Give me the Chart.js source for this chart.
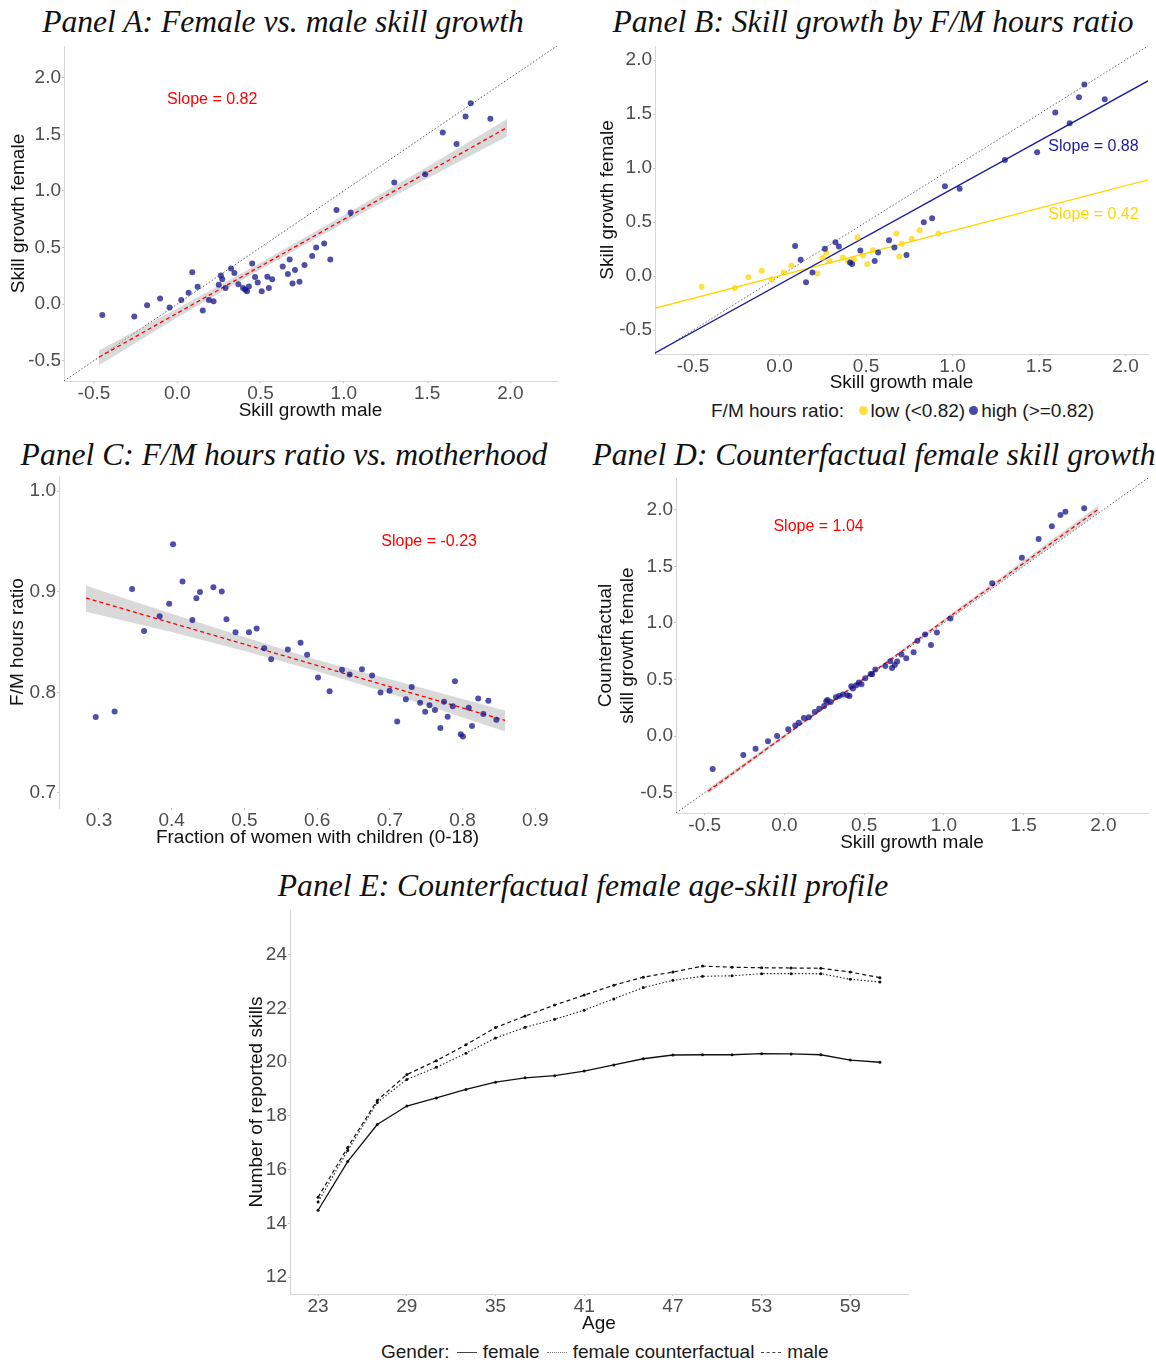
<!DOCTYPE html>
<html>
  <head>
    <title>Skill growth panels</title>
    <script src="https://cdn.jsdelivr.net/npm/chart.js@4.4.1/dist/chart.umd.min.js"></script>
    <style>
      body { margin: 0; background: #fff; width: 1156px; height: 1365px; position: relative; overflow: hidden; }
      canvas { position: absolute; }
      .ptitle {
        position: absolute; width: 640px; text-align: center; white-space: nowrap;
        font-family: 'Liberation Serif', 'DejaVu Serif', serif; font-style: italic;
        font-size: 31.6px; line-height: 40px; color: #111;
      }
      .legend {
        position: absolute; white-space: nowrap; font-family: 'Liberation Sans', Arial, sans-serif;
        font-size: 19px; line-height: 22px; color: #1a1a1a;
      }
      .dot { display: inline-block; width: 9px; height: 9px; border-radius: 50%; vertical-align: 2px; margin: 0 3px 0 4px; }
      .ln { display: inline-block; width: 20px; height: 0; border-top: 1.3px solid #444; vertical-align: 5px; margin: 0 6px 0 7px; }
    </style>
  </head>
  <body>
    <div class="ptitle" style="left:-37px; top:2px">Panel A: Female vs. male skill growth</div>
    <div class="ptitle" style="left:553px; top:2px">Panel B: Skill growth by F/M hours ratio</div>
    <div class="ptitle" style="left:-36px; top:435px">Panel C: F/M hours ratio vs. motherhood</div>
    <div class="ptitle" style="left:554px; top:435px">Panel D: Counterfactual female skill growth</div>
    <div class="ptitle" style="left:263px; top:866px">Panel E: Counterfactual female age-skill profile</div>

    <canvas id="panelA" width="570" height="390" style="left:0px; top:40px"></canvas>
    <canvas id="panelB" width="576" height="360" style="left:580px; top:40px"></canvas>
    <canvas id="panelC" width="580" height="390" style="left:0px; top:470px"></canvas>
    <canvas id="panelD" width="576" height="390" style="left:580px; top:470px"></canvas>
    <canvas id="panelE" width="690" height="440" style="left:240px; top:900px"></canvas>

    <div class="legend" style="left:711px; top:400px">F/M hours ratio:&nbsp;
      <span class="dot" style="background:#ffdf40"></span>low (&lt;0.82)<span class="dot" style="background:#4848a6"></span>high (&gt;=0.82)</div>
    <div class="legend" style="left:381px; top:1341px">Gender:<span class="ln"></span>female<span class="ln" style="border-top-style:dotted; border-top-color:#777"></span>female counterfactual<span class="ln" style="border-top-style:dashed"></span>male</div>

    <script>
      // ---- Panels A, B, D: one point per occupation ----
      var maleGrowth = [-0.45, -0.258, -0.181, -0.103, -0.046, 0.024, 0.068, 0.09, 0.122, 0.153,
                        0.19, 0.218, 0.249, 0.262, 0.27, 0.29, 0.323, 0.343, 0.367, 0.395,
                        0.408, 0.419, 0.43, 0.45, 0.467, 0.483, 0.507, 0.541, 0.55, 0.57,
                        0.633, 0.664, 0.675, 0.692, 0.707, 0.734, 0.764, 0.81, 0.834, 0.882,
                        0.919, 0.956, 1.041, 1.303, 1.489, 1.594, 1.677, 1.731, 1.762, 1.88];
      var femaleGrowth = [-0.097, -0.11, -0.01, 0.05, -0.03, 0.035, 0.10, 0.28, 0.153, -0.056,
                          0.035, 0.024, 0.17, 0.253, 0.22, 0.141, 0.315, 0.274, 0.174, 0.141,
                          0.126, 0.112, 0.156, 0.359, 0.238, 0.191, 0.112, 0.241, 0.141, 0.22,
                          0.332, 0.265, 0.394, 0.182, 0.3, 0.197, 0.344, 0.424, 0.5, 0.535,
                          0.394, 0.832, 0.809, 1.074, 1.147, 1.515, 1.415, 1.656, 1.774, 1.638];
      var hoursGroup = ['low','low','low','low','low','low','low','high','high','high',
                        'high','low','low','high','low','low','high','high','low','low',
                        'high','high','low','low','high','low','low','low','high','high',
                        'high','high','low','low','low','high','low','low','high','high',
                        'low','high','high','high','high','high','high','high','high','high'];
      var cfFemaleGrowth = [-0.292, -0.168, -0.112, -0.047, 0.0, 0.059, 0.094, 0.118, 0.159, 0.165,
                            0.212, 0.242, 0.265, 0.307, 0.319, 0.301, 0.342, 0.354, 0.366, 0.36,
                            0.354, 0.44, 0.419, 0.448, 0.472, 0.457, 0.51, 0.549, 0.545, 0.587,
                            0.619, 0.661, 0.602, 0.628, 0.658, 0.72, 0.687, 0.74, 0.841, 0.897,
                            0.805, 0.914, 1.038, 1.351, 1.575, 1.74, 1.853, 1.953, 1.982, 2.012];

      // fitted lines and confidence bands
      var fitAX = [-0.47, 1.98], fitAY = [-0.47, 1.56];
      var bandAX = [-0.47, 0.0, 0.5, 1.0, 1.5, 1.98];
      var bandALo = [-0.54, -0.12, 0.305, 0.715, 1.11, 1.48];
      var bandAHi = [-0.41, -0.04, 0.365, 0.785, 1.21, 1.635];
      var fitBX = [-0.72, 2.13];
      var fitBHighY = [-0.711, 1.807];
      var fitBLowY = [-0.297, 0.891];
      var fitDX = [-0.478, 1.97], fitDY = [-0.487, 2.006];
      var bandDX = [-0.478, 0.5, 1.97];
      var bandDLo = [-0.51, 0.502, 1.975];
      var bandDHi = [-0.464, 0.518, 2.037];
      var diagAD = [-0.68, 2.28];
      var diagB = [-0.72, 2.13];

      // ---- Panel C ----
      var shareMothers = [0.2955, 0.3215, 0.3455, 0.362, 0.3834, 0.3965, 0.4019, 0.4149, 0.4284, 0.4339,
                          0.4389, 0.4573, 0.4688, 0.4753, 0.4878, 0.5063, 0.5168, 0.5273, 0.5368, 0.5597,
                          0.5772, 0.5862, 0.6012, 0.6172, 0.6342, 0.6447, 0.6616, 0.6756, 0.6871, 0.6996,
                          0.7101, 0.722, 0.73, 0.7416, 0.7486, 0.7545, 0.762, 0.7695, 0.7745, 0.7795,
                          0.7865, 0.7895, 0.7975, 0.8005, 0.8085, 0.813, 0.8215, 0.8285, 0.8355, 0.8465];
      var hoursRatio = [0.7754, 0.781, 0.9026, 0.861, 0.8757, 0.8879, 0.9472, 0.9102, 0.8718, 0.8934,
                        0.8997, 0.9043, 0.9003, 0.8725, 0.8597, 0.8597, 0.8633, 0.8439, 0.8328, 0.8426,
                        0.8492, 0.8374, 0.8148, 0.801, 0.8223, 0.8177, 0.823, 0.8167, 0.7997, 0.8016,
                        0.7711, 0.7931, 0.8052, 0.7895, 0.7807, 0.7872, 0.7823, 0.7646, 0.7905, 0.7757,
                        0.7862, 0.8111, 0.7584, 0.7561, 0.7846, 0.7666, 0.7938, 0.7784, 0.7915, 0.7728];
      var fitCX = [0.282, 0.8585], fitCY = [0.8938, 0.7721];
      var bandCX = [0.282, 0.4, 0.5, 0.6, 0.7, 0.8585];
      var bandCLo = [0.880, 0.860, 0.841, 0.821, 0.799, 0.761];
      var bandCHi = [0.906, 0.878, 0.855, 0.832, 0.813, 0.782];

      // ---- Panel E ----
      var ages = [23, 25, 27, 29, 31, 33, 35, 37, 39, 41, 43, 45, 47, 49, 51, 53, 55, 57, 59, 61];
      var skillsFemale = [14.49, 16.30, 17.68, 18.37, 18.67, 18.99, 19.26, 19.42, 19.50, 19.67,
                          19.90, 20.13, 20.27, 20.28, 20.28, 20.32, 20.31, 20.28, 20.08, 20.0];
      var skillsFemaleCf = [14.80, 16.71, 18.50, 19.36, 19.81, 20.34, 20.90, 21.30, 21.60, 21.94,
                            22.36, 22.78, 23.05, 23.20, 23.22, 23.30, 23.30, 23.30, 23.09, 22.99];
      var skillsMale = [14.97, 16.83, 18.58, 19.54, 20.06, 20.65, 21.29, 21.72, 22.13, 22.50,
                        22.87, 23.17, 23.36, 23.58, 23.54, 23.52, 23.51, 23.50, 23.36, 23.15];

      // tick labels
      var growthTicks = [-0.5, 0.0, 0.5, 1.0, 1.5, 2.0];
      var shareTicks = [0.3, 0.4, 0.5, 0.6, 0.7, 0.8, 0.9];
      var ratioTicks = [0.7, 0.8, 0.9, 1.0];
      var ageTicks = [23, 29, 35, 41, 47, 53, 59];
      var skillTicks = [12, 14, 16, 18, 20, 22, 24];

      Chart.defaults.font.family = "'Liberation Sans', Arial, sans-serif";
      Chart.defaults.animation = false;

      var POINT_BLUE = 'rgba(20,20,140,0.75)';
      var POINT_GOLD = 'rgba(255,214,0,0.75)';
      var BAND = 'rgba(170,170,170,0.45)';

      // draws "Slope = ..." labels at data coordinates
      var textLabels = {
        id: 'textLabels',
        afterDatasetsDraw: function(chart, args, opts) {
          var ctx = chart.ctx, xs = chart.scales.x, ys = chart.scales.y;
          (opts.items || []).forEach(function(it) {
            ctx.save();
            ctx.font = "16px 'Liberation Sans', Arial, sans-serif";
            ctx.fillStyle = it.color;
            ctx.textAlign = 'center';
            ctx.textBaseline = 'middle';
            ctx.fillText(it.text, xs.getPixelForValue(it.x), ys.getPixelForValue(it.y));
            ctx.restore();
          });
        }
      };

      function pts(xs, ys) {
        return xs.map(function(x, i) { return {x: x, y: ys[i]}; });
      }

      function lineDs(xs, ys, style) {
        return Object.assign({type: 'line', data: pts(xs, ys), pointRadius: 0, fill: false,
                              tension: 0, borderWidth: 1.2}, style);
      }

      function axis(o) {
        return {
          type: 'linear', min: o.min, max: o.max,
          afterBuildTicks: function(s) { s.ticks = o.ticks.map(function(v) { return {value: v}; }); },
          afterFit: function(s) {
            if (s.isHorizontal()) s.height = o.size; else s.width = o.size;
            s.paddingTop = 0; s.paddingBottom = 0; s.paddingLeft = 0; s.paddingRight = 0;
          },
          ticks: {color: '#4d4d4d', font: {size: 19}, padding: o.tickPad, autoSkip: false, maxRotation: 0,
                  callback: o.fmt},
          grid: {drawOnChartArea: false, tickLength: 2, color: '#c4c4c4'},
          border: {display: o.line !== false, color: '#d6d6d6', width: 1},
          title: {display: true, text: o.title, color: '#111', font: {size: 19}, padding: 0}
        };
      }

      var f1 = function(v) { return v.toFixed(1); };
      var f0 = function(v) { return String(v); };

      function makeChart(id, pad, xAxis, yAxis, datasets, labels) {
        return new Chart(document.getElementById(id), {
          type: 'scatter',
          data: {datasets: datasets},
          plugins: [textLabels],
          options: {
            responsive: false,
            layout: {padding: pad},
            scales: {x: axis(xAxis), y: axis(yAxis)},
            plugins: {legend: {display: false}, tooltip: {enabled: false}, textLabels: {items: labels || []}}
          }
        });
      }

      // Panel A
      makeChart('panelA', {left: 7, top: 6, right: 13, bottom: 8},
        {min: -0.68, max: 2.28, ticks: growthTicks, fmt: f1, size: 41, tickPad: -1, title: 'Skill growth male'},
        {min: -0.68, max: 2.28, ticks: growthTicks, fmt: f1, size: 57, tickPad: 1, title: 'Skill growth female'},
        [
          {data: pts(maleGrowth, femaleGrowth), backgroundColor: POINT_BLUE, borderWidth: 0, pointRadius: 3},
          lineDs(fitAX, fitAY, {borderColor: '#ff0000', borderDash: [4, 3], borderWidth: 1.3}),
          lineDs(bandAX, bandAHi, {borderWidth: 0, fill: '+1', backgroundColor: BAND}),
          lineDs(bandAX, bandALo, {borderWidth: 0}),
          lineDs(diagAD, diagAD, {borderColor: '#333', borderDash: [1.5, 2], borderWidth: 0.8})
        ],
        [{x: 0.21, y: 1.805, text: 'Slope = 0.82', color: '#ff0000'}]);

      // Panel B
      var lowX = maleGrowth.filter(function(v, i) { return hoursGroup[i] === 'low'; });
      var lowY = femaleGrowth.filter(function(v, i) { return hoursGroup[i] === 'low'; });
      var highX = maleGrowth.filter(function(v, i) { return hoursGroup[i] === 'high'; });
      var highY = femaleGrowth.filter(function(v, i) { return hoursGroup[i] === 'high'; });
      makeChart('panelB', {left: 16, top: 6, right: 8, bottom: 6},
        {min: -0.72, max: 2.13, ticks: growthTicks, fmt: f1, size: 40, tickPad: -1, title: 'Skill growth male'},
        {min: -0.72, max: 2.13, ticks: growthTicks, fmt: f1, size: 59, tickPad: 1, title: 'Skill growth female'},
        [
          {data: pts(highX, highY), backgroundColor: POINT_BLUE, borderWidth: 0, pointRadius: 3},
          {data: pts(lowX, lowY), backgroundColor: POINT_GOLD, borderWidth: 0, pointRadius: 3},
          lineDs(fitBX, fitBHighY, {borderColor: '#1c1c96', borderWidth: 1.3}),
          lineDs(fitBX, fitBLowY, {borderColor: '#ffd700', borderWidth: 1.3}),
          lineDs(diagB, diagB, {borderColor: '#444', borderDash: [1.5, 2], borderWidth: 0.8})
        ],
        [{x: 1.815, y: 1.2, text: 'Slope = 0.88', color: '#1c1c96'},
         {x: 1.815, y: 0.567, text: 'Slope = 0.42', color: '#ffd700'}]);

      // Panel C
      makeChart('panelC', {left: 6, top: 6, right: 4, bottom: 11},
        {min: 0.245, max: 0.956, ticks: shareTicks, fmt: f1, size: 41, tickPad: -1, line: false,
         title: 'Fraction of women with children (0-18)'},
        {min: 0.685, max: 1.015, ticks: ratioTicks, fmt: f1, size: 53, tickPad: 1, title: 'F/M hours ratio'},
        [
          {data: pts(shareMothers, hoursRatio), backgroundColor: POINT_BLUE, borderWidth: 0, pointRadius: 3},
          lineDs(fitCX, fitCY, {borderColor: '#ff0000', borderDash: [4, 3], borderWidth: 1.3}),
          lineDs(bandCX, bandCHi, {borderWidth: 0, fill: '+1', backgroundColor: BAND}),
          lineDs(bandCX, bandCLo, {borderWidth: 0})
        ],
        [{x: 0.754, y: 0.95, text: 'Slope = -0.23', color: '#ff0000'}]);

      // Panel D
      makeChart('panelD', {left: 14, top: 8, right: 8, bottom: 6},
        {min: -0.68, max: 2.28, ticks: growthTicks, fmt: f1, size: 41, tickPad: -1, title: 'Skill growth male'},
        {min: -0.68, max: 2.28, ticks: growthTicks, fmt: f1, size: 82, tickPad: 1,
         title: ['Counterfactual', 'skill growth female']},
        [
          {data: pts(maleGrowth, cfFemaleGrowth), backgroundColor: POINT_BLUE, borderWidth: 0, pointRadius: 3},
          lineDs(fitDX, fitDY, {borderColor: '#ff0000', borderDash: [4, 3], borderWidth: 1.3}),
          lineDs(bandDX, bandDHi, {borderWidth: 0, fill: '+1', backgroundColor: BAND}),
          lineDs(bandDX, bandDLo, {borderWidth: 0}),
          lineDs(diagAD, diagAD, {borderColor: '#333', borderDash: [1.5, 2], borderWidth: 0.8})
        ],
        [{x: 0.214, y: 1.85, text: 'Slope = 1.04', color: '#ff0000'}]);

      // Panel E
      makeChart('panelE', {left: 5, top: 10, right: 22, bottom: 5},
        {min: 21.1, max: 62.9, ticks: ageTicks, fmt: f0, size: 41, tickPad: -1, title: 'Age'},
        {min: 11.37, max: 25.67, ticks: skillTicks, fmt: f0, size: 45, tickPad: 1, title: 'Number of reported skills'},
        [
          lineDs(ages, skillsFemale, {borderColor: '#111', borderWidth: 1.3, pointRadius: 1.5,
                 pointBackgroundColor: '#111', pointBorderWidth: 0}),
          lineDs(ages, skillsFemaleCf, {borderColor: '#222', borderWidth: 1.1, borderDash: [1.5, 2],
                 pointRadius: 1.5, pointBackgroundColor: '#111', pointBorderWidth: 0}),
          lineDs(ages, skillsMale, {borderColor: '#111', borderWidth: 1.2, borderDash: [4, 3],
                 pointRadius: 1.5, pointBackgroundColor: '#111', pointBorderWidth: 0})
        ]);
    </script>
  </body>
</html>
